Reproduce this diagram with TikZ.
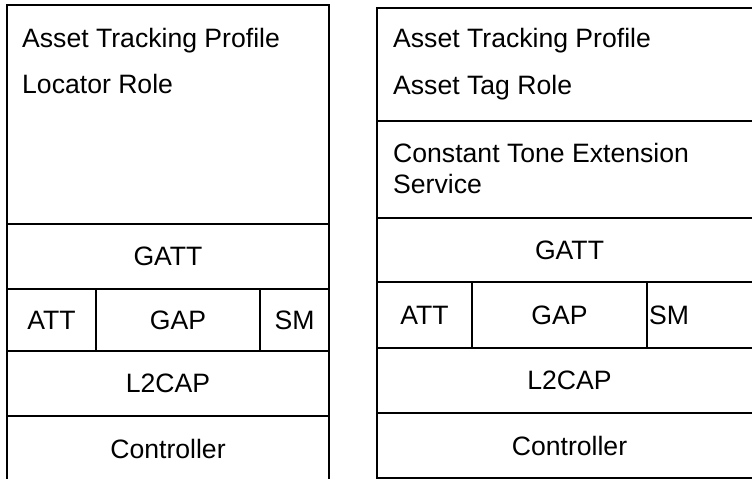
\documentclass[tikz,border=0pt]{standalone}
\usepackage{fontspec}
\setmainfont{Liberation Sans}
\usetikzlibrary{positioning}
\tikzset{
  st/box/.style={rectangle, draw=black, fill=white, line width=1.4pt,
    inner sep=0pt, outer sep=0pt, anchor=north west,
    font=\fontsize{26.6pt}{31pt}\selectfont},
  st/txt/.style={inner sep=0pt, anchor=base west, align=left,
    font=\fontsize{26.6pt}{31pt}\selectfont}
}

\begin{document}
\begin{tikzpicture}[x=1pt, y=-1pt]
  \useasboundingbox (0,0) rectangle (752,479);
  % Locator (left)
  \node[st/box, minimum width=322pt, minimum height=219pt] at (7,5)   (lprof) {};
  \node[st/box, minimum width=322pt, minimum height=65pt]  at (7,224) (lgatt) {GATT};
  \node[st/box, minimum width=89pt,  minimum height=62pt]  at (7,289)   (latt) {ATT};
  \node[st/box, minimum width=164pt, minimum height=62pt]  at (96,289)  (lgap) {GAP};
  \node[st/box, minimum width=69pt,  minimum height=62pt]  at (260,289) (lsm)  {SM};
  \node[st/box, minimum width=322pt, minimum height=65pt]  at (7,351) (ll2cap) {L2CAP};
  \node[st/box, minimum width=322pt, minimum height=65pt]  at (7,416) (lctrl)  {Controller};
  \node[st/txt] at (22,47) (lprof-a) {Asset Tracking Profile};
  \node[st/txt] at (22,93) (lprof-b) {Locator Role};

  % Asset Tag (right)
  \node[st/box, minimum width=385pt, minimum height=113pt] at (377,8)   (rprof) {};
  \node[st/box, minimum width=385pt, minimum height=97pt]  at (377,121) (rcte)  {};
  \node[st/box, minimum width=385pt, minimum height=64pt]  at (377,218) (rgatt) {GATT};
  \node[st/box, minimum width=95pt,  minimum height=66pt]  at (377,282) (ratt)  {ATT};
  \node[st/box, minimum width=175pt, minimum height=66pt]  at (472,282) (rgap)  {GAP};
  \node[st/box, minimum width=115pt, minimum height=66pt,
        text width=111pt, align=left]                      at (647,282) (rsm)   {SM};
  \node[st/box, minimum width=385pt, minimum height=65pt]  at (377,348) (rl2cap) {L2CAP};
  \node[st/box, minimum width=385pt, minimum height=65pt]  at (377,413) (rctrl)  {Controller};
  \node[st/txt] at (393,47) (rprof-a) {Asset Tracking Profile};
  \node[st/txt] at (393,94) (rprof-b) {Asset Tag Role};
  \node[st/txt] at (393,193) (rcte-t) {Constant Tone Extension\\Service};
\end{tikzpicture}
\end{document}
